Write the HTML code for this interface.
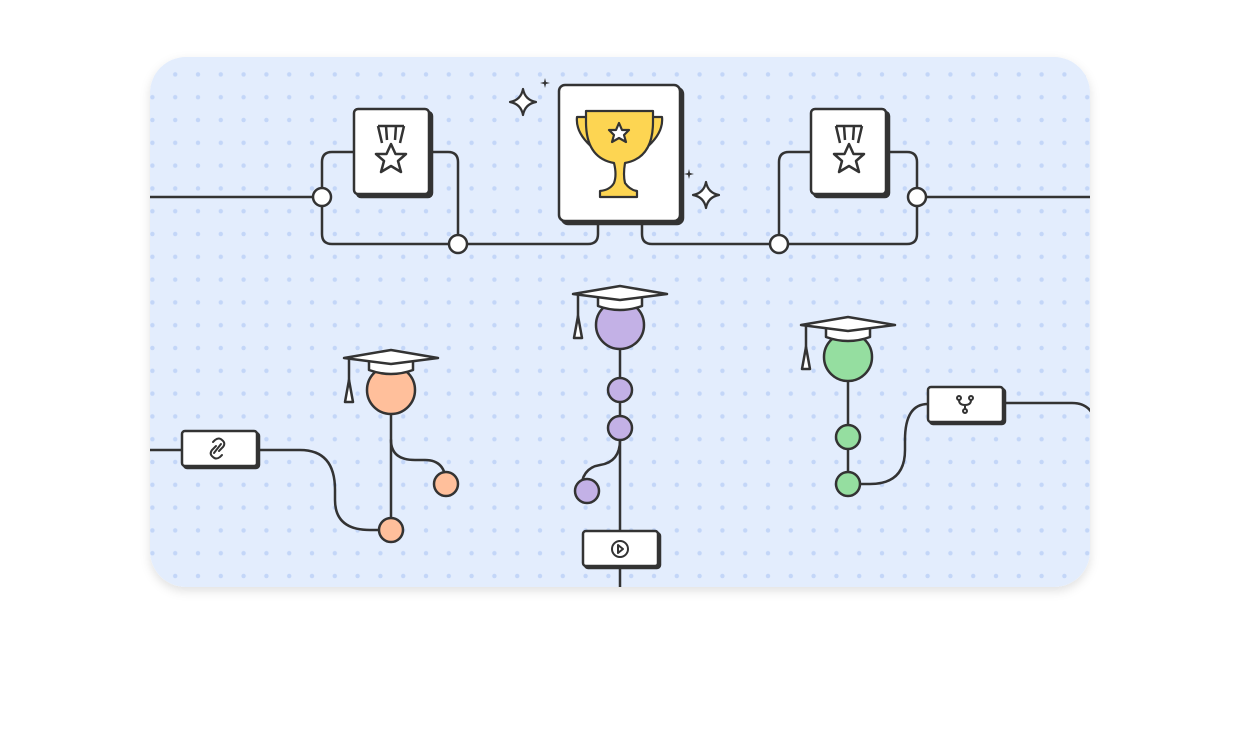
<!DOCTYPE html>
<html><head><meta charset="utf-8"><style>
html,body{margin:0;padding:0;background:#fff;width:1240px;height:740px;overflow:hidden}
</style></head><body>
<svg width="1240" height="740" viewBox="0 0 1240 740" xmlns="http://www.w3.org/2000/svg">
<defs>
<pattern id="dots" x="141" y="63" width="22.8" height="22.8" patternUnits="userSpaceOnUse">
<circle cx="11.4" cy="11.4" r="2.2" fill="#c3d6f8"/></pattern>
<clipPath id="panel"><rect x="150" y="57" width="940" height="530" rx="36"/></clipPath>
<filter id="sh" x="-5%" y="-5%" width="110%" height="115%"><feDropShadow dx="0" dy="4" stdDeviation="5" flood-color="#000" flood-opacity="0.12"/></filter>
<g id="cap">
<path d="M-22,2 L-22,12 Q0,20 22,12 L22,2 Z" fill="#fff" stroke="#333" stroke-width="2.5" stroke-linejoin="round"/>
<path d="M-47,0 L0,-8 L47,0 L0,6 Z" fill="#fff" stroke="#333" stroke-width="2.5" stroke-linejoin="round"/>
<path d="M-42,0 L-42,24" stroke="#333" stroke-width="2.5"/>
<path d="M-42,22 L-38,44 L-46,44 Z" fill="#fff" stroke="#333" stroke-width="2.5" stroke-linejoin="round"/>
</g>
<g id="medal">
<path d="M-13,-27 L-9,-10 M-5,-27 L-4,-13 M5,-27 L4,-13 M13,-27 L9,-10 M-13,-27 L13,-27" stroke="#333" stroke-width="2.5" fill="none"/>
<path d="M0,-9 L4.5,1 L15,1 L7,8 L10,19 L0,13 L-10,19 L-7,8 L-15,1 L-4.5,1 Z" fill="#fff" stroke="#333" stroke-width="2.5" stroke-linejoin="round"/>
</g>
<path id="spark" d="M0,-13 Q2,-2 13,0 Q2,2 0,13 Q-2,2 -13,0 Q-2,-2 0,-13 Z" fill="#fff" stroke="#333" stroke-width="2.2" stroke-linejoin="round"/>
</defs>
<rect x="150" y="57" width="940" height="530" rx="36" fill="#e3edfd" filter="url(#sh)"/>
<rect x="150" y="57" width="940" height="530" rx="36" fill="url(#dots)"/>
<g clip-path="url(#panel)" fill="none" stroke="#333" stroke-width="2.5" stroke-linecap="round">
<path d="M140,197 H322"/>
<path d="M355,152 H332 Q322,152 322,162 V234 Q322,244 332,244 H448"/>
<path d="M430,152 H448 Q458,152 458,162 V244"/>
<path d="M458,244 H588 Q598,244 598,234 V222"/>
<path d="M642,222 V234 Q642,244 652,244 H779"/>
<path d="M812,152 H789 Q779,152 779,162 V244"/>
<path d="M887,152 H907 Q917,152 917,162 V234 Q917,244 907,244 H779"/>
<path d="M917,197 H1100"/>
<path d="M140,450 H182"/>
<path d="M257,450 H300 Q335,450 335,490 V500 Q335,530 370,530 H380"/>
<path d="M391,390 V530"/>
<path d="M391,440 Q391,460 415,460 H425 Q446,460 446,484"/>
<path d="M620,325 V600"/>
<path d="M620,440 Q620,462 600,465 Q581,468 581,491"/>
<path d="M848,357 V484"/>
<path d="M860,484 H870 Q905,484 905,450 V440 Q905,404 928,404"/>
<path d="M1003,403 H1072 Q1090,403 1095,420"/>
</g>
<g fill="#fff" stroke="#333" stroke-width="2.5">
<circle cx="322" cy="197" r="9"/><circle cx="458" cy="244" r="9"/>
<circle cx="779" cy="244" r="9"/><circle cx="917" cy="197" r="9"/>
</g>
<g stroke="#333" stroke-width="2.5">
<rect x="357" y="112" width="75" height="85" rx="4" fill="#333"/>
<rect x="354" y="109" width="75" height="85" rx="4" fill="#fff"/>
<rect x="814" y="112" width="75" height="85" rx="4" fill="#333"/>
<rect x="811" y="109" width="75" height="85" rx="4" fill="#fff"/>
<rect x="562" y="88" width="121" height="136" rx="6" fill="#333"/>
<rect x="559" y="85" width="121" height="136" rx="6" fill="#fff"/>
</g>
<use href="#medal" x="391" y="153"/>
<use href="#medal" x="849" y="153"/>
<g stroke="#333" stroke-width="2.2" stroke-linejoin="round">
<path d="M586,117 H577 Q575,135 598,152 Z" fill="#fdd552"/>
<path d="M653,117 H662 Q664,135 641,152 Z" fill="#fdd552"/>
<path d="M586,111 H653 V122 Q653,158 625,163 Q623,175 625,183 Q630,190 637,191 V197 H600 V191 Q610,190 614,183 Q617,175 614,163 Q586,158 586,122 Z" fill="#fdd552"/>
<path d="M619,123 L622,130 L629,130 L624,135 L626,142 L619,138 L612,142 L614,135 L609,130 L616,130 Z" fill="#fff"/>
</g>
<use href="#spark" x="523" y="102"/>
<use href="#spark" x="706" y="195"/>
<path d="M545,78 L546,82 L550,83 L546,84 L545,88 L544,84 L540,83 L544,82Z" fill="#333"/>
<path d="M689,169 L690,173 L694,174 L690,175 L689,179 L688,175 L684,174 L688,173Z" fill="#333"/>
<g stroke="#333" stroke-width="2.5">
<rect x="184" y="433" width="75" height="35" rx="3" fill="#333"/>
<rect x="182" y="431" width="75" height="35" rx="3" fill="#fff"/>
<rect x="585" y="533" width="75" height="35" rx="3" fill="#333"/>
<rect x="583" y="531" width="75" height="35" rx="3" fill="#fff"/>
<rect x="930" y="389" width="75" height="35" rx="3" fill="#333"/>
<rect x="928" y="387" width="75" height="35" rx="3" fill="#fff"/>
</g>
<g fill="none" stroke="#333" stroke-width="2" stroke-linecap="round">
<path d="M216,446 L212,450 Q209,454 213,457 Q216,460 220,457 L222,455"/>
<path d="M219,451 L223,447 Q226,443 222,440 Q219,437 215,440 L213,442"/>
<path d="M214,453 L221,444"/>
<circle cx="620" cy="549" r="8"/>
<path d="M618,545 L623,549 L618,553 Z" stroke-linejoin="round"/>
<circle cx="959" cy="398" r="2"/><circle cx="971" cy="398" r="2"/><circle cx="965" cy="411" r="2"/>
<path d="M959,400 Q959,405 965,405 Q971,405 971,400 M965,405 V409"/>
</g>
<g stroke="#333" stroke-width="2.5">
<circle cx="391" cy="390" r="24" fill="#ffbf9b"/>
<circle cx="446" cy="484" r="12" fill="#ffbf9b"/>
<circle cx="391" cy="530" r="12" fill="#ffbf9b"/>
<circle cx="620" cy="325" r="24" fill="#c3b1e6"/>
<circle cx="620" cy="390" r="12" fill="#c3b1e6"/>
<circle cx="620" cy="428" r="12" fill="#c3b1e6"/>
<circle cx="587" cy="491" r="12" fill="#c3b1e6"/>
<circle cx="848" cy="357" r="24" fill="#95dea0"/>
<circle cx="848" cy="437" r="12" fill="#95dea0"/>
<circle cx="848" cy="484" r="12" fill="#95dea0"/>
</g>
<use href="#cap" x="391" y="358"/>
<use href="#cap" x="620" y="294"/>
<use href="#cap" x="848" y="325"/>
</svg>
</body></html>
